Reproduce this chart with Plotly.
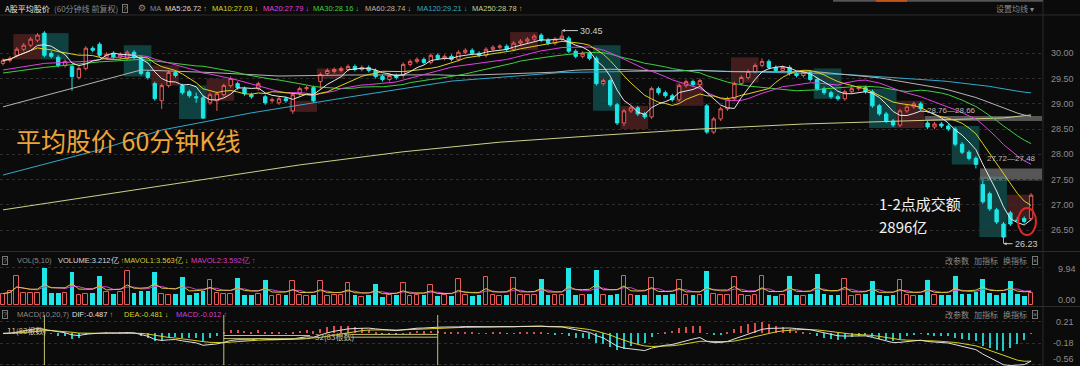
import plotly.graph_objects as go
import pandas as pd

# ---------------- data ----------------
opens = [29.80, 29.86, 29.96, 30.08, 30.16, 30.26, 30.40, 30.00, 29.92, 29.76,
         29.74, 29.52, 29.70, 30.10, 30.18, 29.92, 30.00, 29.92, 29.90, 30.02,
         29.92, 29.62, 29.40, 29.06, 29.36, 29.62, 29.36, 29.24, 29.14, 29.12,
         29.02, 29.06, 29.18, 29.36, 29.40, 29.30, 29.18, 29.30, 29.14, 29.06,
         29.02, 29.10, 28.86, 29.20, 29.30, 29.32, 29.44, 29.60, 29.64, 29.66,
         29.68, 29.74, 29.68, 29.72, 29.66, 29.54, 29.48, 29.56, 29.56, 29.78,
         29.84, 29.88, 29.82, 29.96, 29.90, 29.94, 29.88, 30.02, 30.06, 30.00,
         29.96, 30.08, 30.12, 30.14, 30.08, 30.20, 30.24, 30.28, 30.36, 30.26,
         30.20, 30.28, 30.30, 30.04, 29.94, 30.00, 29.90, 29.40, 29.46, 28.98,
         28.62, 28.86, 28.92, 28.80, 28.74, 29.30, 29.22, 29.16, 29.08, 29.36,
         29.44, 29.38, 28.96, 28.44, 28.70, 28.90, 29.10, 29.40, 29.52, 29.64,
         29.76, 29.84, 29.72, 29.66, 29.72, 29.60, 29.56, 29.62, 29.48, 29.30,
         29.22, 29.14, 29.10, 29.24, 29.30, 29.32, 29.24, 28.96, 28.80, 28.66,
         28.58, 28.86, 28.94, 29.00, 28.62, 28.54, 28.60, 28.56, 28.50, 28.20,
         28.04, 27.92, 27.40, 27.22, 26.90, 26.62, 26.84, 26.70, 26.73, 26.73]
highs = [29.90, 29.94, 30.12, 30.20, 30.32, 30.40, 30.44, 30.04, 29.96, 29.88,
         29.78, 29.74, 30.14, 30.14, 30.22, 30.02, 30.04, 30.02, 30.06, 30.06,
         29.96, 29.66, 29.44, 29.40, 29.66, 29.66, 29.40, 29.28, 29.22, 29.16,
         29.22, 29.24, 29.40, 29.54, 29.44, 29.34, 29.22, 29.44, 29.18, 29.12,
         29.14, 29.14, 29.22, 29.34, 29.36, 29.36, 29.62, 29.70, 29.72, 29.74,
         29.78, 29.78, 29.76, 29.76, 29.70, 29.58, 29.60, 29.60, 29.82, 29.88,
         29.92, 29.92, 30.00, 30.00, 29.98, 29.98, 30.06, 30.10, 30.10, 30.04,
         30.12, 30.16, 30.18, 30.18, 30.24, 30.28, 30.32, 30.38, 30.40, 30.30,
         30.32, 30.45, 30.34, 30.08, 30.04, 30.04, 29.94, 29.50, 29.50, 29.02,
         28.90, 28.96, 28.96, 28.84, 29.34, 29.34, 29.26, 29.20, 29.40, 29.48,
         29.48, 29.50, 29.00, 28.74, 28.94, 29.14, 29.44, 29.56, 29.68, 29.80,
         29.90, 29.88, 29.76, 29.76, 29.76, 29.64, 29.66, 29.66, 29.52, 29.34,
         29.26, 29.18, 29.28, 29.34, 29.36, 29.36, 29.28, 29.00, 28.84, 28.70,
         28.90, 28.98, 29.04, 29.04, 28.66, 28.64, 28.64, 28.60, 28.54, 28.24,
         28.08, 27.96, 27.48, 27.26, 26.94, 26.66, 26.88, 26.76, 26.77, 27.23]
lows = [29.76, 29.82, 29.92, 30.04, 30.12, 30.22, 29.92, 29.90, 29.72, 29.72,
        29.26, 29.48, 29.66, 30.02, 29.92, 29.88, 29.88, 29.88, 29.86, 29.88,
        29.56, 29.48, 29.06, 28.90, 29.32, 29.52, 29.18, 29.12, 29.02, 28.70,
        28.98, 28.86, 29.14, 29.32, 29.28, 29.16, 29.10, 29.26, 28.98, 29.02,
        28.98, 29.02, 28.80, 29.16, 29.26, 29.02, 29.30, 29.56, 29.60, 29.62,
        29.64, 29.64, 29.64, 29.62, 29.50, 29.44, 29.44, 29.48, 29.52, 29.74,
        29.80, 29.78, 29.78, 29.86, 29.86, 29.84, 29.84, 29.98, 29.96, 29.92,
        29.92, 30.04, 30.08, 30.04, 30.04, 30.16, 30.20, 30.24, 30.22, 30.16,
        30.16, 30.24, 30.00, 29.90, 29.90, 29.86, 29.36, 29.36, 28.94, 28.58,
        28.56, 28.82, 28.76, 28.70, 28.70, 29.18, 29.12, 29.04, 29.04, 29.32,
        29.34, 29.34, 28.40, 28.40, 28.66, 28.86, 29.06, 29.36, 29.48, 29.60,
        29.72, 29.68, 29.62, 29.62, 29.56, 29.52, 29.52, 29.44, 29.26, 29.18,
        29.10, 29.06, 29.06, 29.20, 29.26, 29.20, 28.92, 28.76, 28.62, 28.54,
        28.54, 28.82, 28.90, 28.86, 28.50, 28.50, 28.52, 28.46, 28.16, 28.00,
        27.88, 27.72, 27.02, 26.88, 26.62, 26.23, 26.58, 26.64, 26.63, 26.69]
closes = [29.86, 29.90, 30.08, 30.16, 30.28, 30.36, 29.96, 29.94, 29.76, 29.84,
          29.54, 29.70, 30.10, 30.06, 29.96, 29.98, 29.92, 29.98, 30.02, 29.92,
          29.60, 29.52, 29.10, 29.36, 29.62, 29.56, 29.22, 29.16, 29.12, 28.72,
          29.18, 29.20, 29.36, 29.50, 29.32, 29.20, 29.14, 29.40, 29.02, 29.08,
          29.10, 29.06, 29.18, 29.30, 29.32, 29.06, 29.58, 29.66, 29.68, 29.70,
          29.74, 29.68, 29.72, 29.66, 29.54, 29.48, 29.56, 29.52, 29.78, 29.84,
          29.88, 29.82, 29.96, 29.90, 29.94, 29.88, 30.02, 30.06, 30.00, 29.96,
          30.08, 30.12, 30.14, 30.08, 30.20, 30.24, 30.28, 30.34, 30.26, 30.20,
          30.28, 30.34, 30.04, 29.94, 30.00, 29.90, 29.40, 29.46, 28.98, 28.62,
          28.86, 28.92, 28.80, 28.74, 29.30, 29.22, 29.16, 29.08, 29.36, 29.44,
          29.38, 29.46, 28.44, 28.70, 28.90, 29.10, 29.40, 29.52, 29.64, 29.76,
          29.84, 29.72, 29.66, 29.72, 29.60, 29.56, 29.62, 29.48, 29.30, 29.22,
          29.14, 29.10, 29.24, 29.30, 29.32, 29.24, 28.96, 28.80, 28.66, 28.58,
          28.86, 28.94, 29.00, 28.90, 28.54, 28.60, 28.56, 28.50, 28.20, 28.04,
          27.92, 27.80, 27.06, 26.92, 26.66, 26.36, 26.62, 26.69, 26.67, 27.19]
volumes = [3.05, 3.68, 7.8, 3.3, 3.3, 3.3, 9.94, 3.3, 3.3, 3.3,
           8.9, 2.6, 3.05, 3.3, 7.8, 3.5, 3.05, 3.5, 9.1, 3.3,
           3.7, 3.7, 8.9, 3.05, 2.8, 3.05, 7.5, 2.6, 3.3, 3.7,
           6.6, 3.3, 3.05, 3.05, 7.3, 2.8, 2.6, 3.05, 6.6, 2.4,
           2.6, 2.8, 6.4, 2.6, 2.4, 2.8, 6.4, 2.4, 2.6, 2.8,
           6.0, 2.6, 2.15, 2.6, 5.7, 2.15, 2.6, 2.6, 6.0, 2.4,
           2.6, 2.6, 5.3, 2.4, 2.6, 2.4, 6.9, 2.6, 2.4, 2.6,
           7.5, 2.6, 2.4, 2.8, 7.3, 2.6, 2.6, 2.8, 6.9, 2.6,
           2.6, 2.8, 9.9, 2.6, 2.8, 3.0, 9.3, 2.8, 2.6, 3.0,
           7.8, 2.8, 2.6, 2.8, 7.3, 2.6, 2.8, 3.0, 6.6, 2.6,
           2.8, 2.6, 9.1, 3.0, 2.6, 2.8, 7.5, 2.6, 2.4, 2.8,
           7.8, 2.6, 2.4, 2.8, 7.8, 2.8, 2.4, 3.0, 8.2, 3.0,
           2.6, 2.8, 7.1, 2.4, 2.6, 3.0, 6.4, 2.6, 2.4, 2.8,
           6.6, 2.8, 2.4, 2.6, 6.6, 2.6, 2.6, 2.8, 7.8, 3.0,
           3.0, 3.4, 7.1, 3.3, 2.6, 3.3, 6.4, 3.0, 2.4, 3.21]

ma20_head_idx = [0, 6, 12, 18]
ma20_head_val = [29.67, 29.80, 29.84, 29.94]
ma30_head_idx = [0, 6, 14, 20, 28]
ma30_head_val = [29.61, 29.72, 29.83, 29.88, 29.75]
ma60_head_idx = [0, 10, 20, 30, 40, 50]
ma60_head_val = [28.94, 29.31, 29.67, 29.62, 29.55, 29.57]
ma120_head_idx = [0, 14, 23, 36, 50, 65, 81, 100, 112]
ma120_head_val = [27.59, 28.09, 28.48, 28.82, 29.13, 29.45, 29.62, 29.66, 29.62]
ma250_idx = [0, 14, 29, 43, 58, 72, 87, 101, 116, 130, 145, 149]
ma250_val = [26.90, 27.19, 27.49, 27.79, 28.05, 28.24, 28.38, 28.50, 28.60, 28.66, 28.72, 28.78]

price_ticks = [30.0, 29.5, 29.0, 28.5, 28.0, 27.5, 27.0, 26.5]
vol_ticks = [9.94, 0.0]
macd_ticks = [0.21, -0.18, -0.56]

# highlighted days: (first bar, last bar, low, high, kind)
day_boxes = [(2, 5, 29.88, 30.38, 'up'), (6, 9, 29.88, 30.40, 'dn'),
             (18, 21, 29.54, 30.16, 'dn'), (22, 25, 29.36, 29.76, 'up'),
             (26, 29, 28.70, 29.36, 'dn'), (30, 33, 29.06, 29.50, 'up'),
             (42, 45, 28.84, 29.06, 'up'), (46, 49, 29.50, 29.70, 'up'),
             (74, 77, 30.06, 30.42, 'up'), (86, 89, 28.86, 30.16, 'dn'),
             (90, 93, 28.50, 28.96, 'up'), (98, 101, 28.96, 29.42, 'up'),
             (106, 109, 29.42, 29.92, 'up'), (118, 121, 29.10, 29.70, 'dn'),
             (126, 129, 28.52, 29.30, 'dn'), (130, 133, 28.52, 29.06, 'up'),
             (138, 141, 27.80, 28.56, 'dn'), (142, 145, 26.36, 27.56, 'dn'),
             (146, 148.8, 26.70, 27.20, 'up')]

# ---------------- helpers ----------------
W, H = 1080, 366
PLOT_W = 1042
BG = '#0b0b0b'
RED = '#e85a5a'
CYAN = '#1ee6e6'
n = len(closes)
idx = list(range(n))


def px(X):
    return X / PLOT_W


def py(Y):
    return 1 - Y / H


def price_at(Y):
    return 30 - (Y - 53.3) / 50.5


s_close = pd.Series(closes)
s_vol = pd.Series(volumes)
ma5 = s_close.rolling(5, min_periods=1).mean()
ma10 = s_close.rolling(10, min_periods=1).mean()


def joined(head_idx, head_val, window):
    full = s_close.rolling(window).mean()
    start = window - 1
    xs = list(head_idx) + list(range(start, n))
    ys = list(head_val) + list(full[start:])
    return xs, ys


ma20_x, ma20_y = joined(ma20_head_idx, ma20_head_val, 20)
ma30_x, ma30_y = joined(ma30_head_idx, ma30_head_val, 30)
ma60_x, ma60_y = joined(ma60_head_idx, ma60_head_val, 60)
ma120_x, ma120_y = joined(ma120_head_idx, ma120_head_val, 120)

ema10 = s_close.ewm(span=10, adjust=False).mean()
ema20 = s_close.ewm(span=20, adjust=False).mean()
dif = ema10 - ema20
dea = dif.ewm(span=7, adjust=False).mean()
hist = 2 * (dif - dea)

mavol1 = s_vol.rolling(5, min_periods=1).mean()
mavol2 = s_vol.rolling(10, min_periods=1).mean()

up = [c >= o for o, c in zip(opens, closes)]

fig = go.Figure()

ma_specs = [
    (ma250_idx, ma250_val, '#cfcf8a'),
    (ma120_x, ma120_y, '#33a9cc'),
    (ma60_x, ma60_y, '#b4b4b4'),
    (ma30_x, ma30_y, '#3fcf3f'),
    (ma20_x, ma20_y, '#e040e0'),
    (idx, list(ma10), '#e0d020'),
    (idx, list(ma5), '#e8e8e8'),
]
for xs, ys, col in ma_specs:
    fig.add_trace(go.Scatter(x=xs, y=ys, mode='lines', line=dict(color=col, width=1),
                             xaxis='x', yaxis='y', hoverinfo='skip', showlegend=False))

fig.add_trace(go.Candlestick(
    x=idx, open=opens, high=highs, low=lows, close=closes,
    increasing=dict(line=dict(color=RED, width=1), fillcolor=BG),
    decreasing=dict(line=dict(color=CYAN, width=1), fillcolor=CYAN),
    whiskerwidth=0, xaxis='x', yaxis='y', showlegend=False, hoverinfo='skip'))

fig.add_trace(go.Bar(x=[i for i in idx if up[i]], y=[volumes[i] for i in idx if up[i]],
                     marker=dict(color=BG, line=dict(color=RED, width=1)), width=0.68,
                     xaxis='x2', yaxis='y2', showlegend=False, hoverinfo='skip'))
fig.add_trace(go.Bar(x=[i for i in idx if not up[i]], y=[volumes[i] for i in idx if not up[i]],
                     marker=dict(color=CYAN, line=dict(width=0)), width=0.68,
                     xaxis='x2', yaxis='y2', showlegend=False, hoverinfo='skip'))
fig.add_trace(go.Scatter(x=idx, y=list(mavol2), mode='lines', line=dict(color='#d040d0', width=1),
                         xaxis='x2', yaxis='y2', showlegend=False, hoverinfo='skip'))
fig.add_trace(go.Scatter(x=idx, y=list(mavol1), mode='lines', line=dict(color='#d8c830', width=1),
                         xaxis='x2', yaxis='y2', showlegend=False, hoverinfo='skip'))

hcol = ['#d85050' if h >= 0 else '#20c8c8' for h in hist]
fig.add_trace(go.Bar(x=idx, y=list(hist), marker=dict(color=hcol, line=dict(width=0)), width=0.16,
                     xaxis='x3', yaxis='y3', showlegend=False, hoverinfo='skip'))
fig.add_trace(go.Scatter(x=idx, y=list(dea), mode='lines', line=dict(color='#d8d020', width=1),
                         xaxis='x3', yaxis='y3', showlegend=False, hoverinfo='skip'))
fig.add_trace(go.Scatter(x=idx, y=list(dif), mode='lines', line=dict(color='#e0e0e0', width=1),
                         xaxis='x3', yaxis='y3', showlegend=False, hoverinfo='skip'))

xr = [(0 - 3) / 6.9, (PLOT_W - 3) / 6.9]
xcommon = dict(range=xr, showgrid=False, zeroline=False, showticklabels=False, ticks='',
               showline=False, fixedrange=True)
grid = dict(showgrid=True, gridcolor='#2e2e2e', griddash='dot', gridwidth=1,
            zeroline=False, showticklabels=False, ticks='', side='right', fixedrange=True)

fig.update_layout(
    width=W, height=H, margin=dict(l=0, r=W - PLOT_W, t=0, b=0),
    paper_bgcolor=BG, plot_bgcolor=BG, bargap=0, barmode='overlay',
    xaxis=dict(**xcommon, domain=[0, 1], anchor='y', rangeslider=dict(visible=False)),
    xaxis2=dict(**xcommon, domain=[0, 1], anchor='y2'),
    xaxis3=dict(**xcommon, domain=[0, 1], anchor='y3'),
    yaxis=dict(**grid, domain=[py(251), py(19)], range=[price_at(251), price_at(19)],
               tickvals=price_ticks, anchor='x'),
    yaxis2=dict(**grid, domain=[py(305), py(253)], range=[0, (305 - 253) * 0.2686],
                tickvals=vol_ticks, anchor='x2'),
    yaxis3=dict(**grid, domain=[py(366), py(308)], range=[-(366 - 333.4) / 55.6, (333.4 - 308) / 55.6],
                tickvals=macd_ticks, anchor='x3'),
    font=dict(family='Liberation Sans, DejaVu Sans', color='#999999'),
)

shapes = []
for a, b, lo, hi, kind in day_boxes:
    fill = 'rgba(115,45,45,0.55)' if kind == 'up' else 'rgba(20,120,120,0.5)'
    shapes.append(dict(type='rect', xref='x', yref='y', x0=a - 0.5, x1=b + 0.5, y0=lo, y1=hi,
                       fillcolor=fill, line=dict(width=0), layer='below'))
shapes.append(dict(type='rect', xref='x', yref='y', x0=133.6, x1=xr[1], y0=28.66, y1=28.76,
                   fillcolor='rgba(150,150,150,0.55)', line=dict(width=0), layer='below'))
shapes.append(dict(type='rect', xref='x', yref='y', x0=141.6, x1=xr[1], y0=27.48, y1=27.72,
                   fillcolor='rgba(150,150,150,0.55)', line=dict(width=0), layer='below'))
for Y in [15, 251.5, 306.5]:
    shapes.append(dict(type='line', xref='paper', yref='paper', x0=0, x1=W / PLOT_W, y0=py(Y), y1=py(Y),
                       line=dict(color='#2c2c2c', width=1)))
shapes.append(dict(type='line', xref='paper', yref='paper', x0=px(1043), x1=px(1043), y0=0, y1=1,
                   line=dict(color='#2c2c2c', width=1)))
shapes.append(dict(type='line', xref='paper', yref='paper', x0=px(833), x1=px(1043), y0=py(0.8), y1=py(0.8),
                   line=dict(color='#555555', width=2)))
shapes.append(dict(type='line', xref='paper', yref='paper', x0=px(876), x1=px(907), y0=py(0.8), y1=py(0.8),
                   line=dict(color='#c0561c', width=2)))
shapes.append(dict(type='circle', xref='paper', yref='paper', x0=px(1018), x1=px(1036), y0=py(235), y1=py(208),
                   line=dict(color='#e02828', width=2)))
for i in [6, 32, 63]:
    shapes.append(dict(type='line', xref='x3', yref='paper', x0=i, x1=i, y0=py(365), y1=py(315),
                       line=dict(color='#c8c070', width=1)))
for x0, x1, yv in [(32, 44.5, -0.038), (32, 44.5, -0.094), (50.4, 63, -0.018), (50.4, 63, -0.068)]:
    shapes.append(dict(type='line', xref='x3', yref='y3', x0=x0, x1=x1, y0=yv, y1=yv,
                       line=dict(color='#c8c070', width=1)))

ann = []


def text(X, Y, s, color='#999999', size=9, anchor='left', family=None, **kw):
    d = dict(xref='paper', yref='paper', x=px(X), y=py(Y), text=s, showarrow=False,
             xanchor=anchor, yanchor='middle', font=dict(color=color, size=size))
    if family:
        d['font']['family'] = family
    d.update(kw)
    ann.append(d)


CJK = 'Noto Sans CJK SC'
SANS = 'Liberation Sans'
text(3, 8, 'A股平均股价', '#e6e6e6', 8, family=CJK)
text(52, 8, '(60分钟线 前复权)', '#8a8a8a', 8, family=CJK)
text(122, 8, '?', '#8a8a8a', 7, bordercolor='#777777', borderwidth=1, borderpad=0)
text(136, 8, '⚙', '#8a8a8a', 9)
text(148, 8, 'MA', '#8a8a8a', 7.5, family=SANS)
hdr = [(163, 'MA5:26.72', '#d8d8d8', '↑', '#e0a020'),
       (210, 'MA10:27.03', '#e0d020', '↓', '#e0d020'),
       (261, 'MA20:27.79', '#e040e0', '↓', '#e040e0'),
       (311, 'MA30:28.16', '#3fcf3f', '↓', '#3fcf3f'),
       (363, 'MA60:28.74', '#b4b4b4', '↓', '#b4b4b4'),
       (415, 'MA120:29.21', '#33a9cc', '↓', '#33a9cc'),
       (470, 'MA250:28.78', '#cfcf8a', '↑', '#e0a020')]
for X, s, c, arr, ac in hdr:
    text(X, 8, f'{s} <span style="color:{ac}">{arr}</span>', c, 7.5, family=SANS)
text(1036, 8, '设置均线 ▾', '#8a8a8a', 8, anchor='right', family=CJK)

text(2, 260, '?', '#8a8a8a', 7, bordercolor='#777777', borderwidth=1, borderpad=0)
text(15, 260, 'VOL(5,10)', '#8a8a8a', 7.5, family=SANS)
text(56, 260, 'VOLUME:3.212亿 <span style="color:#e0a020">↑</span>', '#d8d8d8', 7.5, family=SANS)
text(122, 260, 'MAVOL1:3.563亿 <span style="color:#d8c830">↓</span>', '#d8c830', 7.5, family=SANS)
text(189, 260, 'MAVOL2:3.592亿 <span style="color:#d040d0">↑</span>', '#d040d0', 7.5, family=SANS)
text(2, 314, '?', '#8a8a8a', 7, bordercolor='#777777', borderwidth=1, borderpad=0)
text(15, 314, 'MACD(10,20,7)', '#8a8a8a', 7.5, family=SANS)
text(70, 314, 'DIF:-0.487 <span style="color:#e0a020">↑</span>', '#e0e0e0', 7.5, family=SANS)
text(122, 314, 'DEA:-0.481 <span style="color:#d8d020">↓</span>', '#d8d020', 7.5, family=SANS)
text(174, 314, 'MACD:-0.012 <span style="color:#d040d0">↑</span>', '#d040d0', 7.5, family=SANS)
for Y in [260, 314]:
    text(943, Y, '改参数', '#8a8a8a', 8, family=CJK)
    text(972, Y, '加指标', '#8a8a8a', 8, family=CJK)
    text(1001, Y, '换指标', '#8a8a8a', 8, family=CJK)
    text(1032, Y, '×', '#8a8a8a', 7, bordercolor='#777777', borderwidth=1, borderpad=0)

for v in price_ticks:
    text(1076, 53.3 + (30 - v) * 50.5, f'{v:.2f}', '#8c8c8c', 9, anchor='right')
text(1078, 269, f'{vol_ticks[0]:.2f}', '#8c8c8c', 9, anchor='right')
text(1078, 300, f'{vol_ticks[1]:.2f}', '#8c8c8c', 9, anchor='right')
for v, Y in zip(macd_ticks, [321.7, 343.4, 359]):
    text(1076, Y, f'{v:.2f}', '#8c8c8c', 9, anchor='right')

text(14, 140, '平均股价 60分钟K线', '#eba53a', 25, family=CJK)
text(877, 204, '1-2点成交额', '#f2f2f2', 15, family=CJK)
text(877, 226, '2896亿', '#f2f2f2', 15, family=CJK)
text(925, 110, '28.76—28.66', '#bbbbbb', 8, family=SANS)
text(985, 158, '27.72—27.48', '#bbbbbb', 8, family=SANS)
text(5, 330, '11(83根数)', '#c8c8a0', 8, family=CJK)
text(313, 336, '32(83根数)', '#c8c8a0', 8, family=CJK)

ann.append(dict(xref='x', yref='y', x=81, y=30.45, text='30.45', showarrow=True, arrowhead=2,
                arrowsize=0.6, arrowwidth=1, arrowcolor='#cccccc', ax=16, ay=0,
                xanchor='left', font=dict(color='#cccccc', size=9)))
ann.append(dict(xref='x', yref='y', x=145, y=26.23, text='26.23', showarrow=True, arrowhead=2,
                arrowsize=0.6, arrowwidth=1, arrowcolor='#cccccc', ax=9, ay=0,
                xanchor='left', font=dict(color='#cccccc', size=9)))

fig.update_layout(shapes=shapes, annotations=ann)
fig.write_html('out.html', config={'displayModeBar': False},
               post_script="document.body.style.margin='0';document.body.style.padding='0';")
